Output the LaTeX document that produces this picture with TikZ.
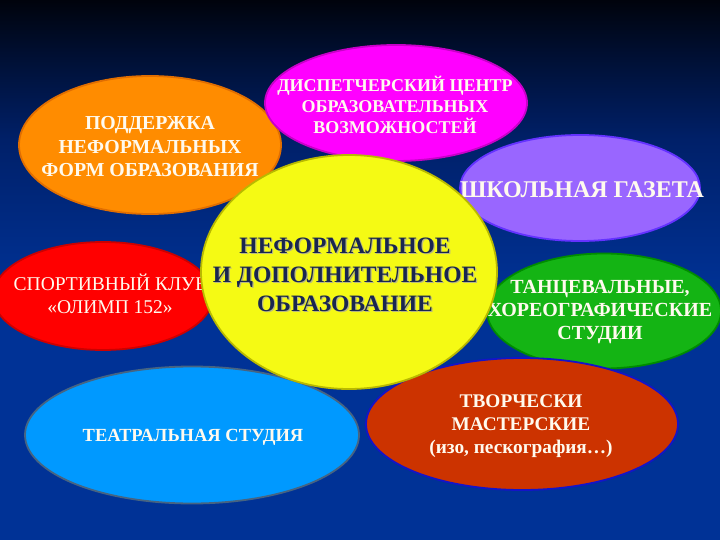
\documentclass[tikz,border=0pt]{standalone}
\usepackage{fontspec}
\setmainfont{Liberation Serif}
\usetikzlibrary{shapes.geometric}
\definecolor{bgtop}{RGB}{0,3,12}
\definecolor{bgdark}{RGB}{0,15,50}
\definecolor{bgmid}{RGB}{0,32,105}
\definecolor{bglow}{RGB}{0,50,150}
\definecolor{cOrange}{RGB}{255,140,0}
\definecolor{bOrange}{RGB}{225,110,0}
\definecolor{cMag}{RGB}{255,0,255}
\definecolor{bMag}{RGB}{200,0,200}
\definecolor{cPur}{RGB}{153,102,255}
\definecolor{bPur}{RGB}{100,50,255}
\definecolor{cYel}{RGB}{245,250,20}
\definecolor{bYel}{RGB}{185,185,0}
\definecolor{cRed}{RGB}{255,0,0}
\definecolor{bRed}{RGB}{205,0,0}
\definecolor{cGreen}{RGB}{20,180,20}
\definecolor{bGreen}{RGB}{0,140,0}
\definecolor{cCyan}{RGB}{0,153,255}
\definecolor{bCyan}{RGB}{70,100,130}
\definecolor{cBrown}{RGB}{204,51,0}
\definecolor{bBrown}{RGB}{20,20,200}
\definecolor{txtW}{RGB}{255,250,238}
\definecolor{txtC}{RGB}{25,38,80}
\definecolor{txtS}{RGB}{185,185,130}
\pgfdeclareverticalshading{bgshade}{100bp}{color(0bp)=(bglow); color(25bp)=(bglow); color(48bp)=(bglow); color(62bp)=(bgmid); color(70bp)=(bgdark); color(75bp)=(bgtop); color(100bp)=(bgtop)}
\tikzset{
  blob/.style={ellipse, inner sep=0pt, line width=1.8pt},
  wtext/.style={text=txtW, align=center, inner sep=0pt},
}
\begin{document}
\begin{tikzpicture}[x=1pt,y=-1pt]
\useasboundingbox (0,0) rectangle (720,540);
\shade[shading=bgshade] (0,0) rectangle (720,540);
% orange
\node[blob, fill=cOrange, draw=bOrange, minimum width=262pt, minimum height=138pt] (orange) at (150,145) {};
\node[wtext, font=\bfseries\fontsize{19.8}{23.5}\selectfont] (orangeT) at (150,147) {ПОДДЕРЖКА\\НЕФОРМАЛЬНЫХ\\ФОРМ ОБРАЗОВАНИЯ};
% magenta
\node[blob, fill=cMag, draw=bMag, minimum width=262pt, minimum height=116pt] (mag) at (396,103) {};
\node[wtext, font=\bfseries\fontsize{18}{21}\selectfont] (magT) at (395,105) {ДИСПЕТЧЕРСКИЙ ЦЕНТР\\ОБРАЗОВАТЕЛЬНЫХ\\ВОЗМОЖНОСТЕЙ};
% purple
\node[blob, fill=cPur, draw=bPur, minimum width=240pt, minimum height=106pt] (pur) at (580,188) {};
\node[wtext, font=\bfseries\fontsize{24}{28}\selectfont] (purT) at (582,190) {ШКОЛЬНАЯ ГАЗЕТА};
% red
\node[blob, fill=cRed, draw=bRed, minimum width=220pt, minimum height=108pt] (red) at (103,296) {};
\node[wtext, font=\fontsize{19.5}{23}\selectfont] (redT) at (110,294) {СПОРТИВНЫЙ КЛУБ\\«ОЛИМП 152»};
% green
\node[blob, fill=cGreen, draw=bGreen, minimum width=234pt, minimum height=115pt] (green) at (604,311) {};
\node[wtext, font=\bfseries\fontsize{20}{23}\selectfont] (greenT) at (600,312) {ТАНЦЕВАЛЬНЫЕ,\\ХОРЕОГРАФИЧЕСКИЕ\\СТУДИИ};
% cyan
\node[blob, fill=cCyan, draw=bCyan, minimum width=334pt, minimum height=137pt] (cyan) at (192,435) {};
\node[wtext, font=\bfseries\fontsize{18.5}{21}\selectfont] (cyanT) at (193,437) {ТЕАТРАЛЬНАЯ СТУДИЯ};
% brown
\node[blob, fill=cBrown, draw=bBrown, minimum width=312pt, minimum height=132pt] (brown) at (522,424) {};
\node[wtext, font=\bfseries\fontsize{19.3}{23}\selectfont] (brownT) at (521,426) {ТВОРЧЕСКИ\\МАСТЕРСКИЕ\\(изо, пескография…)};
% yellow centre
\node[blob, fill=cYel, draw=bYel, minimum width=296pt, minimum height=234pt] (yel) at (349,272) {};
\node[align=center, inner sep=0pt, text=txtS, font=\bfseries\fontsize{23.5}{29}\selectfont] (yelS) at (346.2,276.2) {НЕФОРМАЛЬНОЕ\\И ДОПОЛНИТЕЛЬНОЕ\\ОБРАЗОВАНИЕ};
\node[align=center, inner sep=0pt, text=txtC, font=\bfseries\fontsize{23.5}{29}\selectfont] (yelT) at (345,275) {НЕФОРМАЛЬНОЕ\\И ДОПОЛНИТЕЛЬНОЕ\\ОБРАЗОВАНИЕ};
\end{tikzpicture}
\end{document}
